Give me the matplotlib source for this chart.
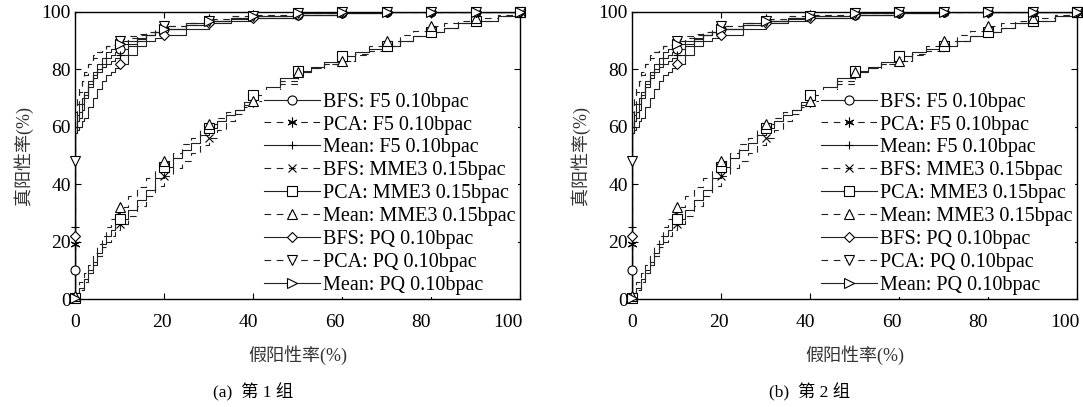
import matplotlib
matplotlib.use("Agg")
import matplotlib.pyplot as plt
from matplotlib.lines import Line2D
from matplotlib.transforms import ScaledTranslation


#Data (false positive rate vs true positive rate, in %)
##########################################################################################
x_high = [0, 0, 0.5, 1, 1.5, 2, 3, 4, 5, 6, 7, 8, 9, 10, 12, 14, 16, 18, 20,
          25, 30, 35, 40, 50, 60, 70, 80, 90, 100]

bfs_f5 = [0, 58, 62, 65, 68, 71, 75, 78, 80, 82, 84, 85, 86, 87, 89, 90.5, 92, 93, 94,
          95.5, 97, 98, 98.5, 99, 99.5, 100, 100, 100, 100]
pca_f5 = [0, 63, 68, 72, 76, 79, 82, 84, 86, 87, 88, 88.5, 89, 90, 91, 92, 93, 94, 95,
          96, 97.5, 98.5, 99, 99.5, 100, 100, 100, 100, 100]
mean_f5 = [0, 60, 62, 63, 66, 70, 74, 77, 79, 81, 82, 83, 84, 85, 88, 90, 92, 93, 94,
           95.5, 97, 97.5, 98, 99, 99.5, 100, 100, 100, 100]
bfs_pq = [0, 58, 59, 60, 62, 63, 67, 70, 73, 76, 78, 79, 80.5, 82, 85, 88, 90, 91, 92,
          94, 96, 97, 98, 99, 99.5, 100, 100, 100, 100]
pca_pq = [0, 65, 70, 74, 76, 78, 82, 85, 86, 87, 88, 88.5, 89, 90, 91.5, 92.5, 93, 94, 95,
          96, 97, 98, 98.5, 99.5, 100, 100, 100, 100, 100]
mean_pq = [0, 60, 64, 68, 70, 72, 76, 79, 82, 84, 86, 87, 88, 89, 90, 91, 92, 93, 94,
           96, 97, 98, 98.5, 99.5, 100, 100, 100, 100, 100]

x_low = [0, 1, 2, 3, 4, 5, 6, 7, 8, 9, 10, 12, 14, 16, 18, 20, 22, 24, 26, 28, 30,
         32, 34, 36, 38, 40, 43, 46, 50, 53, 56, 60, 63, 66, 70, 73, 76, 80, 83, 86,
         90, 95, 100]

bfs_mme3 = [1, 3, 6, 9, 12, 15, 18, 20, 22, 24, 26, 29, 32.5, 36, 39.5, 43, 45.5, 48,
            51, 53.5, 56, 59, 62, 64.5, 67, 69, 72, 75, 79, 80.5, 82, 83, 85, 86.5, 88,
            90, 91.5, 93, 94.5, 96, 97, 98.5, 100]
pca_mme3 = [1, 4, 7, 10, 13, 16, 19, 22, 24, 26, 28, 31, 34.5, 38, 42, 46, 49, 52,
            54.5, 57, 59.5, 62, 64, 66, 68.5, 71, 74, 77, 79.5, 81, 82.5, 84.5, 86, 87,
            88, 90, 91.5, 93, 94.5, 96, 97, 98.5, 100]
mean_mme3 = [2, 6, 9, 12, 16, 19, 22, 25, 28, 30, 32, 36, 39, 42, 45, 48, 51, 54, 56,
             59, 61, 63, 65, 66, 67.5, 69, 72, 76, 79, 80.5, 82, 83, 85.5, 88, 90, 92,
             93.5, 95, 96, 97, 98, 99, 100]

#marker positions drawn on every curve
mark_x = [0, 10, 20, 30, 40, 50, 60, 70, 80, 90, 100]
mark_bfs_f5 = [10, 87, 94, 97, 98.5, 99, 99.5, 100, 100, 100, 100]
mark_pca_f5 = [19, 90, 95, 97.5, 99, 99.5, 100, 100, 100, 100, 100]
mark_mean_f5 = [25, 85, 94, 97, 98, 99, 99.5, 100, 100, 100, 100]
mark_bfs_mme3 = [0.5, 26, 43, 56, 69, 79, 83, 88, 93, 97, 100]
mark_pca_mme3 = [0.5, 28, 46, 59.5, 71, 79.5, 84.5, 88, 93, 97, 100]
mark_mean_mme3 = [1, 32, 48, 61, 69, 79, 83, 90, 95, 98, 100]
mark_bfs_pq = [22, 82, 92, 96, 98, 99, 99.5, 100, 100, 100, 100]
mark_pca_pq = [48, 90, 95, 97, 98.5, 99.5, 100, 100, 100, 100, 100]
mark_mean_pq = [0.5, 89, 94, 97, 98.5, 99.5, 100, 100, 100, 100, 100]

labels = ["BFS: F5 0.10bpac", "PCA: F5 0.10bpac", "Mean: F5 0.10bpac",
          "BFS: MME3 0.15bpac", "PCA: MME3 0.15bpac", "Mean: MME3 0.15bpac",
          "BFS: PQ 0.10bpac", "PCA: PQ 0.10bpac", "Mean: PQ 0.10bpac"]
ticks = [0, 20, 40, 60, 80, 100]
captions = ["(a)  第 1 组", "(b)  第 2 组"]
##########################################################################################

plt.rcParams['font.family'] = ['Liberation Serif', 'Noto Sans CJK SC']

series = [
    (x_high, bfs_f5, mark_bfs_f5, '-', 'o'),
    (x_high, pca_f5, mark_pca_f5, '--', (6, 2, 0)),
    (x_high, mean_f5, mark_mean_f5, '-', '+'),
    (x_low, bfs_mme3, mark_bfs_mme3, '--', 'x'),
    (x_low, pca_mme3, mark_pca_mme3, '-', 's'),
    (x_low, mean_mme3, mark_mean_mme3, '--', '^'),
    (x_high, bfs_pq, mark_bfs_pq, '-', 'D'),
    (x_high, pca_pq, mark_pca_pq, '--', 'v'),
    (x_high, mean_pq, mark_mean_pq, '-', '>'),
]

LINE_COLOR = '#222222'
DASHES = (6, 5)


def marker_size(m):
    if m == 'D':
        return 5
    if m in ('+', 'x'):
        return 6
    if m == (6, 2, 0):
        return 7
    return 6.5


def draw_panel(fig, ax, caption):
    handles = []
    for xs, ys, my, ls, m in series:
        line, = ax.plot(xs, ys, drawstyle='steps-post', color=LINE_COLOR, lw=0.8,
                        ls=ls)
        if ls == '--':
            line.set_dashes(DASHES)
        ax.plot(mark_x, my, ls='none', marker=m, ms=marker_size(m), mfc='white',
                mec='black', mew=0.8, clip_on=False, zorder=3)
        h = Line2D([], [], color=LINE_COLOR, lw=0.8, ls=ls, marker=m,
                   ms=marker_size(m), mfc='white', mec='black', mew=0.8)
        if ls == '--':
            h.set_dashes(DASHES)
        handles.append(h)

    ax.set_xlim(0, 100)
    ax.set_ylim(0, 100)
    ax.set_xticks(ticks)
    ax.set_yticks(ticks)
    ax.tick_params(direction='in', top=True, right=True, length=4, width=0.8,
                   labelsize=14)
    ax.tick_params(axis='x', pad=11)
    ax.tick_params(axis='y', pad=3)
    for s in ax.spines.values():
        s.set_linewidth(1.0)

    # the tick labels in the original sit a little left of their ticks
    for i, t in enumerate(ax.xaxis.get_major_ticks()):
        shift = ScaledTranslation(-2.4 * i / 100, 0, fig.dpi_scale_trans)
        t.label1.set_transform(t.label1.get_transform() + shift)

    ax.set_xlabel('假阳性率(%)', fontsize=13, color='#333333', labelpad=10)
    ax.set_ylabel('真阳性率(%)', fontsize=13, color='#333333', labelpad=6)
    ax.text(0.40, -0.325, caption, transform=ax.transAxes, ha='center', va='center',
            fontsize=12.5)

    leg = ax.legend(handles, labels, loc='lower right', fontsize=14.5,
                    handlelength=2.8, handletextpad=0.15, labelspacing=0.19,
                    borderaxespad=0.1, borderpad=0.1, frameon=True, fancybox=False,
                    edgecolor='none', framealpha=1.0)
    leg.get_frame().set_facecolor('white')


def main():
    W, H = 1083, 407
    fig = plt.figure(figsize=(W / 100, H / 100), dpi=100)
    ax1 = fig.add_axes([75 / W, (H - 299) / H, 445 / W, 287 / H])
    ax2 = fig.add_axes([632 / W, (H - 299) / H, 445 / W, 287 / H])
    draw_panel(fig, ax1, captions[0])
    draw_panel(fig, ax2, captions[1])
    fig.savefig('out.png', dpi=100)


if __name__ == "__main__":
    main()
